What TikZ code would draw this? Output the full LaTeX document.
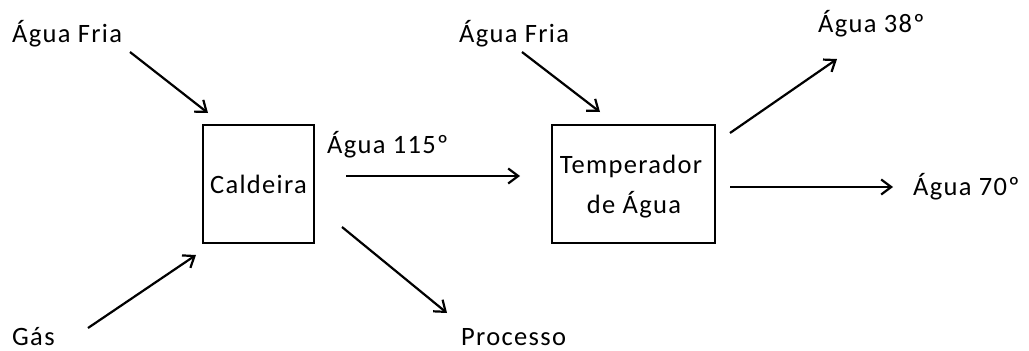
\documentclass[tikz,border=0pt]{standalone}
\usepackage{fontspec}
\setmainfont{Carlito}[LetterSpace=5]
\usetikzlibrary{arrows.meta}
\begin{document}
\begin{tikzpicture}[x=1pt,y=-1pt,
  lbl/.style={anchor=base west,inner sep=0pt,font=\fontsize{26.5}{32}\selectfont},
  boxnode/.style={draw,line width=2.4pt,inner sep=0pt,font=\fontsize{26.5}{40}\selectfont,align=center},
  flow/.style={line width=2.2pt,-{Straight Barb[length=10pt,width=15pt,line width=2.2pt]}}]
\useasboundingbox (0,0) rectangle (1029,351);
% boxes
\node[boxnode,minimum width=111pt,minimum height=118pt] (cald) at (258.5,184) {\raisebox{-3pt}{Caldeira}};
\node[boxnode,minimum width=163pt,minimum height=118pt] (temp) at (633.5,184) {};
\node[anchor=base,inner sep=0pt,font=\fontsize{26.5}{32}\selectfont] (t1) at (631,173) {Temperador};
\node[anchor=base,inner sep=0pt,font=\fontsize{26.5}{32}\selectfont] (t2) at (634,213) {de Água};
% labels
\node[lbl] (af1) at (12,42) {Água Fria};
\node[lbl] (af2) at (459,42) {Água Fria};
\node[lbl] (a38) at (818,32) {Água 38º};
\node[lbl] (a115) at (327,153) {Água 115º};
\node[lbl] (a70) at (913,195) {Água 70º};
\node[lbl] (gas) at (12,345) {Gás};
\node[lbl] (proc) at (461,345) {Processo};
% arrow end points
\coordinate (p1s) at (130,52);  \coordinate (p1e) at (208,113);
\coordinate (p2s) at (522,52);  \coordinate (p2e) at (600,112);
\coordinate (p3s) at (88,328);  \coordinate (p3e) at (196,255);
\coordinate (p4s) at (346,176); \coordinate (p4e) at (520,176);
\coordinate (p5s) at (342,227); \coordinate (p5e) at (447,313);
\coordinate (p6s) at (730,133); \coordinate (p6e) at (837,59);
\coordinate (p7s) at (730,187); \coordinate (p7e) at (893,187);
\draw[flow] (p1s) -- (p1e);
\draw[flow] (p2s) -- (p2e);
\draw[flow] (p3s) -- (p3e);
\draw[flow] (p4s) -- (p4e);
\draw[flow] (p5s) -- (p5e);
\draw[flow] (p6s) -- (p6e);
\draw[flow] (p7s) -- (p7e);
\end{tikzpicture}
\end{document}
